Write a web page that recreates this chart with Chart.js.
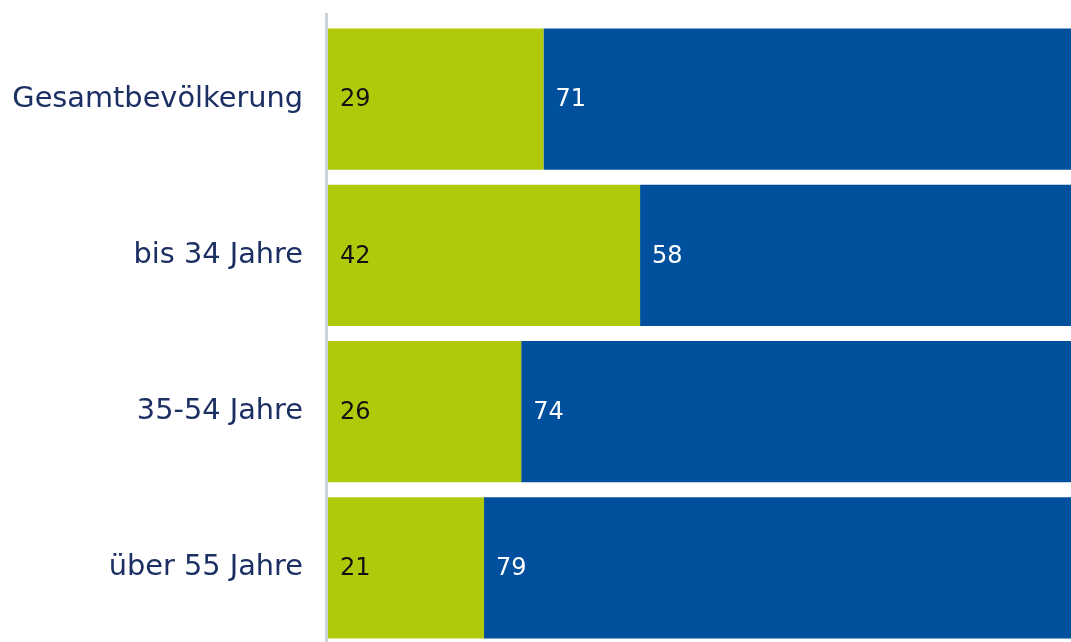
<!DOCTYPE html>
<html>
<head>
<meta charset="utf-8">
<script src="https://cdn.jsdelivr.net/npm/chart.js@4/dist/chart.umd.min.js"></script>
<style>
  html, body { margin: 0; padding: 0; background: #ffffff; overflow: hidden; }
  #wrap { width: 1071px; height: 642px; overflow: hidden; }
</style>
</head>
<body>
<div id="wrap"><canvas id="c" width="1071" height="646"></canvas></div>
<script>
const categories = ["Gesamtbevölkerung", "bis 34 Jahre", "35-54 Jahre", "über 55 Jahre"];
const greenValues = [29, 42, 26, 21];
const blueValues = [71, 58, 74, 79];
const seriesNames = ["Anteil A", "Anteil B"];

const GREEN = "#b0ca0b";
const BLUE = "#00509e";
const FONT = "'DejaVu Sans', sans-serif";

const axisLinePlugin = {
  id: "axisLine",
  afterDatasetsDraw(chart) {
    const { ctx, chartArea } = chart;
    ctx.save();
    ctx.fillStyle = "#cdd2dd";
    ctx.fillRect(chartArea.left - 3, chartArea.top - 8, 3, chart.height);
    ctx.restore();
  }
};

const valueLabelPlugin = {
  id: "valueLabels",
  afterDatasetsDraw(chart) {
    const { ctx } = chart;
    ctx.save();
    ctx.font = "24px " + FONT;
    ctx.textAlign = "left";
    ctx.textBaseline = "middle";
    chart.data.datasets.forEach((ds, di) => {
      const meta = chart.getDatasetMeta(di);
      ctx.fillStyle = di === 0 ? "#111111" : "#ffffff";
      meta.data.forEach((bar, i) => {
        const start = Math.min(bar.base, bar.x);
        ctx.fillText(String(ds.data[i]), start + 12, bar.y + 1);
      });
    });
    ctx.restore();
  }
};

new Chart(document.getElementById("c"), {
  type: "bar",
  data: {
    labels: categories,
    datasets: [
      { label: seriesNames[0], data: greenValues, backgroundColor: GREEN, borderWidth: 0 },
      { label: seriesNames[1], data: blueValues, backgroundColor: BLUE, borderWidth: 0 }
    ]
  },
  options: {
    indexAxis: "y",
    responsive: false,
    animation: false,
    devicePixelRatio: 1,
    layout: { padding: { top: 21, bottom: 0, left: 0, right: 0 } },
    categoryPercentage: 1,
    barPercentage: 0.904,
    plugins: { legend: { display: false }, tooltip: { enabled: false } },
    scales: {
      x: { stacked: true, min: 0, max: 100, display: false },
      y: {
        stacked: true,
        grid: { display: false, drawTicks: false },
        border: { display: false },
        ticks: { color: "#1b2f63", font: { family: FONT, size: 28.8 }, padding: 25 },
        afterFit(scale) { scale.width = 328; scale.paddingTop = 0; scale.paddingBottom = 0; }
      }
    }
  },
  plugins: [axisLinePlugin, valueLabelPlugin]
});
</script>
</body>
</html>
